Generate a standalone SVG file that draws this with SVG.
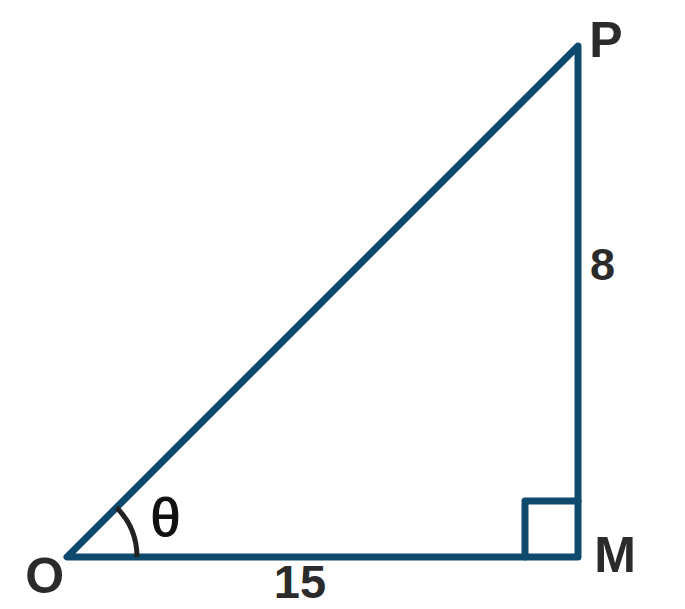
<svg xmlns="http://www.w3.org/2000/svg" width="685" height="609" viewBox="0 0 685 609">
<style>
.edge{fill:none;stroke:#0e4a6e;stroke-width:7;stroke-linejoin:round;stroke-linecap:round}
.arc{fill:none;stroke:#222;stroke-width:5}
.lbl{font-family:"Liberation Sans",Arial,sans-serif;font-weight:bold;fill:#2b2b2b;text-anchor:middle}
.ang{font-family:"Liberation Sans",Arial,sans-serif;font-weight:normal;fill:#111;stroke:#111;stroke-width:1.2;text-anchor:middle}
</style>
<rect width="685" height="609" fill="#fff"/>
<g id="connectors">
<path class="edge" d="M67,557 L578,557 L578,46 Z"/>
<path class="edge" d="M525,557 L525,501 L578,501"/>
<path class="arc" d="M137,557 A70,70 0 0 0 116.5,507.5"/>
</g>
<g id="O"><text class="lbl" x="44.7" y="593" font-size="50">O</text></g>
<g id="M"><text class="lbl" x="615" y="572" font-size="50">M</text></g>
<g id="P"><text class="lbl" x="606" y="57" font-size="50">P</text></g>
<g id="side-OM"><text class="lbl" x="300" y="598" font-size="47">15</text></g>
<g id="side-MP"><text class="lbl" x="602.5" y="280" font-size="45">8</text></g>
<g id="angle"><text class="ang" x="165.5" y="536" font-size="54">θ</text></g>
</svg>
